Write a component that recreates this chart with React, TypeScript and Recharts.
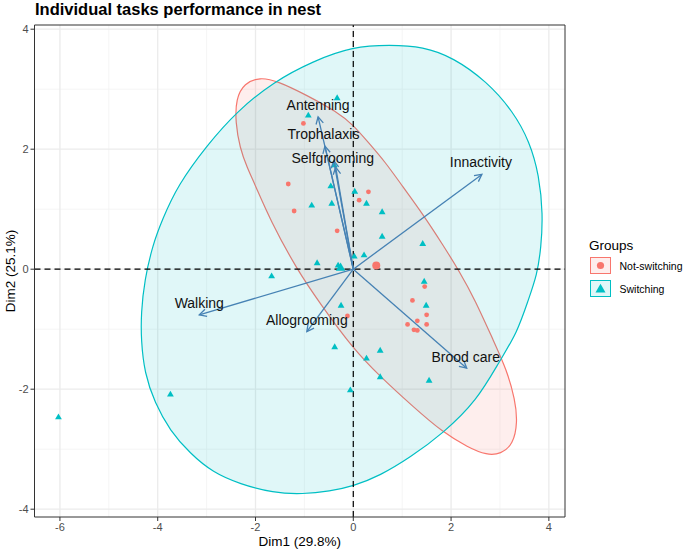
import React from 'react'
import { ScatterChart, Scatter, XAxis, YAxis, ReferenceLine, ReferenceArea } from 'recharts'

const FONT = '"Liberation Sans", Arial, Helvetica, sans-serif'
const RED = '#F8766D'
const CYAN = '#00BFC4'
const ARROW = '#4682B4'

const X_DOMAIN = [-6.52, 4.33]
const Y_DOMAIN = [-4.13, 4.07]
const xMajor = [-6, -4, -2, 0, 2, 4]
const xMinor = [-5, -3, -1, 1, 3]
const yMajor = [-4, -2, 0, 2, 4]
const yMinor = [-3, -1, 1, 3]

// individuals, group "Not-switching"
const notSwX = [-1.02, -1.33, -1.21, 0.31, 0.12, -0.33, 1.46, 1.21, 1.50, 1.31, 1.11, 1.50, 1.24, 1.31, -0.12]
const notSwY = [2.43, 1.42, 0.97, 1.29, 1.15, 0.64, -0.29, -0.52, -0.76, -0.86, -0.92, -0.92, -1.01, -1.02, -0.78]

// individuals, group "Switching"
const swX = [-0.33, -0.92, -0.39, -0.46, 0.03, -0.85, -0.44, 0.27, 0.59, 0.59, 1.42, 0.02, 0.22, -0.74, -0.31,
  -1.67, 1.45, 1.49, -0.25, -0.38, 0.27, 0.55, 0.55, 1.55, -0.06, -3.74, -6.03]
const swY = [2.85, 2.56, 1.73, 1.38, 1.29, 1.06, 1.09, 1.09, 0.95, 0.54, 0.42, 0.21, 0.23, 0.10, 0.06,
  -0.12, -0.21, -0.61, -0.61, -1.30, -1.49, -1.36, -1.80, -1.86, -2.02, -2.09, -2.47]

// group means
const meanNotSw = { x: 0.47, y: 0.06 }
const meanSw = { x: -0.26, y: 0.02 }

// variable arrows
const varX = [-0.72, -0.58, -0.40, -0.36, 2.63, -3.15, -0.95, 2.32]
const varY = [2.54, 2.05, 1.81, 1.70, 1.58, -0.76, -1.04, -1.65]

// variable labels (repelled positions)
const labelNames = ['Antenning', 'Trophalaxis', 'Selfgrooming', 'Innactivity', 'Walking', 'Allogrooming', 'Brood care']
const labelX = [-0.72, -0.61, -0.42, 2.61, -3.15, -0.95, 2.30]
const labelY = [2.73, 2.26, 1.85, 1.78, -0.57, -0.85, -1.46]

// concentration ellipse outlines
const ellNotX = [-0.01, 0.30, 0.65, 1.00, 1.43, 1.83, 2.18, 2.49, 2.86, 3.14, 3.31, 3.36, 3.27, 3.02, 2.73, 2.35, 1.83,
  1.22, 0.55, -0.01, -0.68, -1.15, -1.70, -2.01, -2.17, -2.32, -2.41, -2.40, -2.23, -1.91, -1.56, -0.95, -0.33]
const ellNotY = [2.41, 2.12, 1.79, 1.39, 0.91, 0.41, -0.05, -0.51, -1.18, -1.68, -2.18, -2.55, -2.92, -3.08, -3.10, -2.97, -2.72,
  -2.29, -1.79, -1.32, -0.57, -0.01, 0.82, 1.41, 1.69, 2.02, 2.45, 2.84, 3.10, 3.20, 3.14, 2.90, 2.62]
const ellSwX = [-0.01, 0.75, 1.43, 2.04, 2.73, 3.27, 3.61, 3.80, 3.88, 3.84, 3.76, 3.58, 3.35, 3.00, 2.53, 1.83, 1.16, 0.55,
  -0.01, -0.48, -1.03, -1.64, -2.32, -2.87, -3.34, -3.75, -4.06, -4.27, -4.34, -4.34, -4.27, -4.10, -3.91, -3.59, -2.99, -2.38, -1.64, -0.82]
const ellSwY = [3.71, 3.74, 3.71, 3.53, 3.13, 2.63, 2.12, 1.57, 0.91, 0.36, -0.09, -0.51, -1.06, -1.52, -2.19, -2.74, -3.14, -3.44,
  -3.62, -3.70, -3.75, -3.73, -3.58, -3.39, -3.07, -2.69, -2.23, -1.73, -1.18, -0.73, -0.18, 0.41, 0.82, 1.40, 2.07, 2.63, 3.12, 3.47]

const zip = (xs: number[], ys: number[]) => xs.map((x, i) => ({ x, y: ys[i] }))

const notSwData = zip(notSwX, notSwY)
const swData = zip(swX, swY)
const labelData = labelNames.map((name, i) => ({ x: labelX[i], y: labelY[i], name }))
const ellNotData = zip(ellNotX, ellNotY)
const ellSwData = zip(ellSwX, ellSwY)

const dot = (r: number, color: string) => (p: any) => (
  <circle cx={p.cx} cy={p.cy} r={r} fill={color} />
)
const tri = (s: number, color: string) => (p: any) => {
  const h = s * 0.866
  return (
    <polygon
      points={`${p.cx},${p.cy - (h * 2) / 3} ${p.cx - s / 2},${p.cy + h / 3} ${p.cx + s / 2},${p.cy + h / 3}`}
      fill={color}
    />
  )
}
const none = () => <g />

const ArrowShape = (p: any) => {
  const { x1, y1, x2, y2 } = p
  if ([x1, y1, x2, y2].some(v => v == null || isNaN(v))) return <g />
  const a = Math.atan2(y2 - y1, x2 - x1)
  const len = 8
  const spread = Math.PI / 6.5
  const ax = x2 - len * Math.cos(a - spread)
  const ay = y2 - len * Math.sin(a - spread)
  const bx = x2 - len * Math.cos(a + spread)
  const by = y2 - len * Math.sin(a + spread)
  return (
    <g>
      <line x1={x1} y1={y1} x2={x2} y2={y2} stroke={ARROW} strokeWidth={1.3} />
      <polyline points={`${ax},${ay} ${x2},${y2} ${bx},${by}`} fill="none" stroke={ARROW} strokeWidth={1.3} />
    </g>
  )
}

const VarLabel = (p: any) => (
  <text x={p.cx} y={p.cy} dy="0.35em" textAnchor="middle" fontSize={14} fill="#111" fontFamily={FONT}>
    {p.payload?.name}
  </text>
)

export default function App() {
  return (
    <div style={{ position: 'absolute', left: 0, top: 0, width: 685, height: 552, background: '#fff', fontFamily: FONT }}>
      <ScatterChart width={685} height={552} margin={{ top: 25, right: 120, bottom: 5, left: 4.5 }}>
        <XAxis
          type="number" dataKey="x" domain={X_DOMAIN} ticks={xMajor} allowDataOverflow
          height={30} axisLine={false} tickLine={{ stroke: '#333' }} tickSize={4}
          tick={{ fontSize: 11, fill: '#4D4D4D', fontFamily: FONT }}
        />
        <YAxis
          type="number" dataKey="y" domain={Y_DOMAIN} ticks={yMajor} allowDataOverflow
          width={30} axisLine={false} tickLine={{ stroke: '#333' }} tickSize={4}
          tick={{ fontSize: 11, fill: '#4D4D4D', fontFamily: FONT }}
        />

        {xMinor.map(v => <ReferenceLine key={'xm' + v} x={v} stroke="#F2F2F2" strokeWidth={0.8} zIndex={-100} />)}
        {yMinor.map(v => <ReferenceLine key={'ym' + v} y={v} stroke="#F2F2F2" strokeWidth={0.8} zIndex={-100} />)}
        {xMajor.map(v => <ReferenceLine key={'xM' + v} x={v} stroke="#EBEBEB" strokeWidth={1.3} zIndex={-100} />)}
        {yMajor.map(v => <ReferenceLine key={'yM' + v} y={v} stroke="#EBEBEB" strokeWidth={1.3} zIndex={-100} />)}

        <Scatter
          data={ellNotData} shape={none} isAnimationActive={false} zIndex={100}
          line={{ stroke: RED, strokeWidth: 1.2, fill: RED, fillOpacity: 0.12 }}
          lineType="joint" lineJointType="basisClosed"
        />
        <Scatter
          data={ellSwData} shape={none} isAnimationActive={false} zIndex={100}
          line={{ stroke: CYAN, strokeWidth: 1.2, fill: CYAN, fillOpacity: 0.12 }}
          lineType="joint" lineJointType="basisClosed"
        />

        <ReferenceLine x={0} stroke="#000" strokeWidth={1.2} strokeDasharray="6 4" zIndex={200} />
        <ReferenceLine y={0} stroke="#000" strokeWidth={1.2} strokeDasharray="6 4" zIndex={200} />

        <Scatter data={notSwData} shape={dot(2.4, RED)} isAnimationActive={false} zIndex={600} />
        <Scatter data={swData} shape={tri(6.8, CYAN)} isAnimationActive={false} zIndex={600} />
        <Scatter data={[meanNotSw]} shape={dot(4, RED)} isAnimationActive={false} zIndex={600} />
        <Scatter data={[meanSw]} shape={tri(9.5, CYAN)} isAnimationActive={false} zIndex={600} />

        {varX.map((vx, i) => (
          <ReferenceLine
            key={'v' + i}
            segment={[{ x: 0, y: 0 }, { x: vx, y: varY[i] }]}
            shape={ArrowShape}
            ifOverflow="visible"
            zIndex={700}
          />
        ))}

        <Scatter data={labelData} shape={VarLabel} isAnimationActive={false} zIndex={800} />

        <ReferenceArea
          x1={X_DOMAIN[0]} x2={X_DOMAIN[1]} y1={Y_DOMAIN[0]} y2={Y_DOMAIN[1]}
          fill="none" stroke="#333" strokeWidth={1} ifOverflow="visible" zIndex={900}
        />
      </ScatterChart>

      <svg width={685} height={552} style={{ position: 'absolute', left: 0, top: 0, pointerEvents: 'none' }} fontFamily={FONT}>
        <text x={35} y={15} fontSize={16.5} fontWeight="bold" fill="#000">Individual tasks performance in nest</text>
        <text x={299.75} y={546} fontSize={13.5} textAnchor="middle" fill="#000">Dim1 (29.8%)</text>
        <text transform="translate(15,271) rotate(-90)" fontSize={13.5} textAnchor="middle" fill="#000">Dim2 (25.1%)</text>

        <text x={589} y={250} fontSize={13.5} fill="#000">Groups</text>
        <rect x={590.5} y={257.5} width={20} height={16} fill={RED} fillOpacity={0.12} stroke={RED} strokeWidth={1} />
        <circle cx={600.5} cy={265.5} r={3.6} fill={RED} />
        <text x={619.5} y={269.5} fontSize={10.5} fill="#000">Not-switching</text>
        <rect x={590.5} y={280.5} width={20} height={16} fill={CYAN} fillOpacity={0.12} stroke={CYAN} strokeWidth={1} />
        <polygon points="600.5,283.8 595.5,292.4 605.5,292.4" fill={CYAN} />
        <text x={619.5} y={292.5} fontSize={10.5} fill="#000">Switching</text>
      </svg>
    </div>
  )
}
